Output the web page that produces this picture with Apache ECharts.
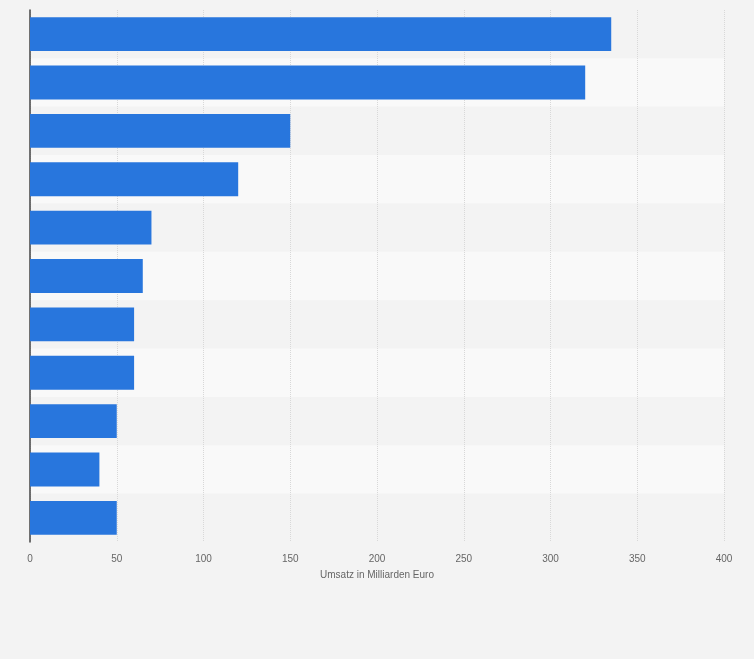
<!DOCTYPE html>
<html><head><meta charset="utf-8">
<script src="https://cdn.jsdelivr.net/npm/echarts@6/dist/echarts.min.js"></script>
<style>html,body{margin:0;padding:0;background:#f3f3f3}#c{width:754px;height:659px}</style>
</head><body><div id="c"></div>
<script>
const categories = ['1','2','3','4','5','6','7','8','9','10','11'];
const values = [335,320,150,120,70,65,60,60,50,40,50];
const xTicks = [0,50,100,150,200,250,300,350,400];
const chart = echarts.init(document.getElementById('c'));
chart.setOption({
  backgroundColor:'#f3f3f3',
  animation:false,
  grid:{left:30,right:30,top:10,bottom:117},
  xAxis:{type:'value',min:0,max:400,interval:50,
    name:'Umsatz in Milliarden Euro',nameLocation:'middle',nameGap:28,
    nameTextStyle:{color:'#666',fontSize:10,fontFamily:'Arial, Liberation Sans'},
    axisLabel:{color:'#666',fontSize:10,fontFamily:'Arial, Liberation Sans',margin:12},
    axisLine:{show:false},axisTick:{show:false},
    splitLine:{show:true,lineStyle:{color:'#d8d8d8',type:'dotted'}}},
  yAxis:{type:'category',data:categories,inverse:true,
    axisLabel:{show:false},axisTick:{show:false},
    axisLine:{show:true,lineStyle:{color:'#444',width:1.5}},
    splitArea:{show:true,areaStyle:{color:['#f3f3f3','#f9f9f9']}}},
  series:[{type:'bar',data:values,barCategoryGap:'30%',
    itemStyle:{color:'#2876dd'}}]
});
</script></body></html>
